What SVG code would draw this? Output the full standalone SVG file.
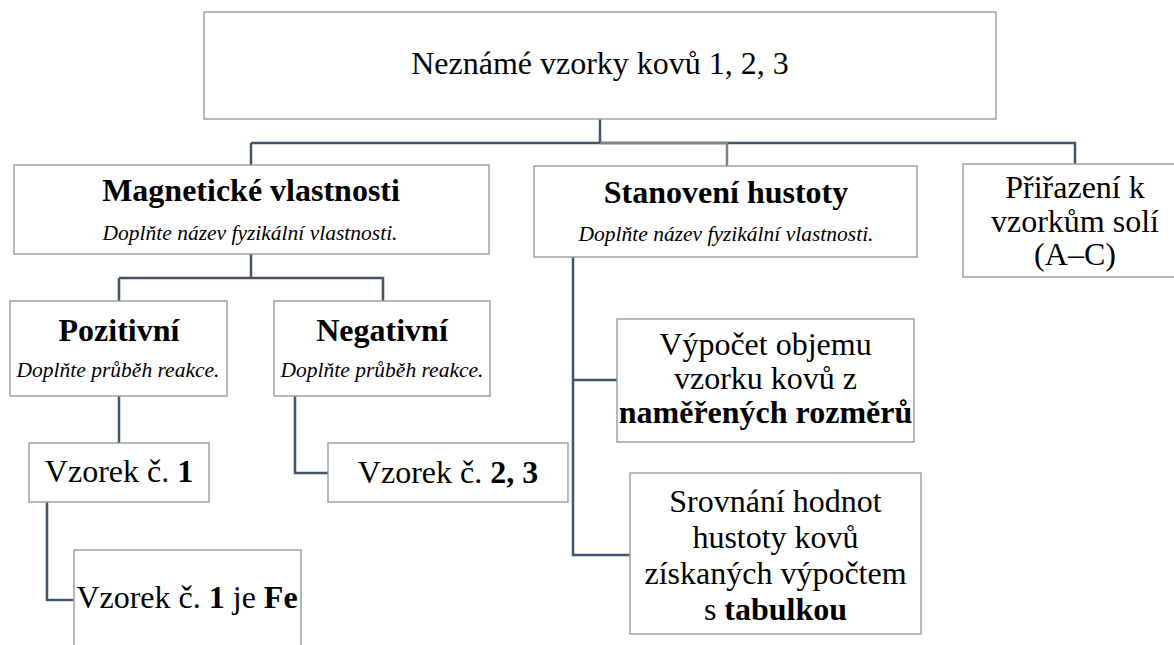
<svg xmlns="http://www.w3.org/2000/svg" width="1174" height="645" viewBox="0 0 1174 645">
<style>
.box{fill:#fff;stroke:#9a9a9a;stroke-width:1.4}
.t{font-family:'Liberation Serif','Times New Roman',serif;font-size:32px;fill:#000;text-anchor:middle}
.b{font-weight:bold}
.i{font-family:'Liberation Serif','Times New Roman',serif;font-size:21.5px;font-style:italic;fill:#000;text-anchor:middle}
.c{fill:none;stroke:#44546a;stroke-width:2.5}
.g{fill:none;stroke:#7f7f7f;stroke-width:2.5}
</style>
<rect width="1174" height="645" fill="#fff"/>
<g id="connectors">
<path class="c" d="M600,119 V143 M251,143 H1075 V164 M251,143 V165"/>
<path class="g" d="M600,143 H727 V166"/>
<path class="c" d="M251,254 V278 M119,278 H383 V301 M119,278 V301"/>
<path class="c" d="M119,396 V443"/>
<path class="c" d="M295,396 V473 H328"/>
<path class="c" d="M47,502 V600 H74"/>
<path class="c" d="M573,257 V555 H630 M573,380 H617"/>
</g>
<g id="n-root">
<rect class="box" x="204" y="12" width="792" height="107"/>
<text class="t" x="600" y="74">Neznámé vzorky kovů 1, 2, 3</text>
</g>
<g id="n-magnet">
<rect class="box" x="14" y="165" width="475" height="89"/>
<text class="t b" x="251" y="201">Magnetické vlastnosti</text>
<text class="i" x="250" y="240">Doplňte název fyzikální vlastnosti.</text>
</g>
<g id="n-hustota">
<rect class="box" x="534" y="166" width="383" height="91"/>
<text class="t b" x="726" y="203">Stanovení hustoty</text>
<text class="i" x="726" y="241">Doplňte název fyzikální vlastnosti.</text>
</g>
<g id="n-prirazeni">
<rect class="box" x="963" y="164" width="224" height="113"/>
<text class="t" x="1075" y="198">Přiřazení k</text>
<text class="t" x="1075" y="231.5">vzorkům solí</text>
<text class="t" x="1075" y="265">(A–C)</text>
</g>
<g id="n-pozitivni">
<rect class="box" x="10" y="301" width="217" height="95"/>
<text class="t b" x="119" y="341">Pozitivní</text>
<text class="i" x="118" y="377">Doplňte průběh reakce.</text>
</g>
<g id="n-negativni">
<rect class="box" x="274" y="301" width="216" height="95"/>
<text class="t b" x="382" y="341">Negativní</text>
<text class="i" x="382" y="377">Doplňte průběh reakce.</text>
</g>
<g id="n-vzorek1">
<rect class="box" x="29" y="443" width="180" height="59"/>
<text class="t" x="119" y="482">Vzorek č. <tspan class="b">1</tspan></text>
</g>
<g id="n-vzorek23">
<rect class="box" x="328" y="443" width="240" height="59"/>
<text class="t" x="448" y="483">Vzorek č. <tspan class="b">2, 3</tspan></text>
</g>
<g id="n-fe">
<rect class="box" x="74" y="550" width="227" height="110"/>
<text class="t" x="187" y="608">Vzorek č. <tspan class="b">1</tspan> je <tspan class="b">Fe</tspan></text>
</g>
<g id="n-vypocet">
<rect class="box" x="617" y="319" width="297" height="123"/>
<text class="t" x="765.5" y="355">Výpočet objemu</text>
<text class="t" x="765.5" y="389">vzorku kovů z</text>
<text class="t b" x="765.5" y="423">naměřených rozměrů</text>
</g>
<g id="n-srovnani">
<rect class="box" x="630" y="473" width="291" height="161"/>
<text class="t" x="775.5" y="512">Srovnání hodnot</text>
<text class="t" x="775.5" y="548">hustoty kovů</text>
<text class="t" x="775.5" y="584">získaných výpočtem</text>
<text class="t" x="775.5" y="620">s <tspan class="b">tabulkou</tspan></text>
</g>
</svg>
